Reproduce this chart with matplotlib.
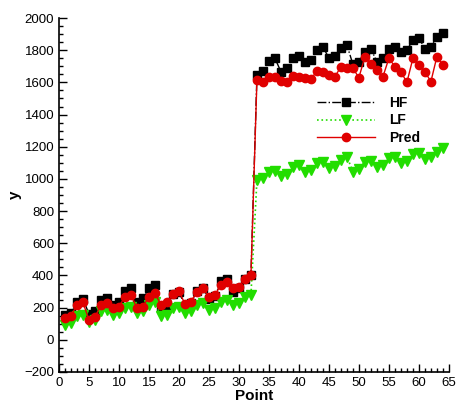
# ---------- Importing Libraries ---------- #
import numpy as np
from matplotlib import pyplot as plt
from matplotlib.ticker import MultipleLocator

# ---------- Data ---------- #
points = np.arange(1, 65)

hf = [155, 168, 238, 254, 161, 182, 248, 259, 217, 232, 306, 320, 238, 259, 320, 340,
      197, 207, 285, 300, 210, 228, 305, 325, 255, 270, 366, 380, 300, 321, 379, 405,
      1646, 1671, 1733, 1750, 1666, 1687, 1750, 1766, 1725, 1739, 1801, 1822, 1750, 1766, 1816, 1832,
      1712, 1729, 1791, 1807, 1729, 1750, 1807, 1822, 1791, 1801, 1863, 1878, 1807, 1822, 1884, 1905]

lf = [93, 103, 145, 155, 113, 124, 176, 186, 155, 166, 197, 207, 166, 176, 217, 232,
      145, 155, 197, 207, 166, 176, 217, 228, 186, 197, 238, 248, 217, 228, 269, 279,
      994, 1004, 1046, 1052, 1019, 1031, 1077, 1087, 1046, 1056, 1097, 1108, 1066, 1081, 1118, 1139,
      1045, 1060, 1108, 1114, 1077, 1087, 1128, 1139, 1101, 1114, 1155, 1163, 1122, 1139, 1170, 1190]

pred = [135, 149, 217, 232, 124, 141, 217, 228, 197, 207, 269, 280, 197, 207, 269, 290,
        217, 233, 284, 304, 222, 238, 300, 321, 269, 279, 342, 358, 321, 331, 379, 400,
        1615, 1605, 1635, 1635, 1609, 1600, 1641, 1635, 1625, 1620, 1671, 1666, 1646, 1635, 1698, 1690,
        1687, 1630, 1760, 1712, 1677, 1635, 1750, 1698, 1666, 1600, 1750, 1705, 1666, 1605, 1760, 1708]

# ---------- Plotting ---------- #
plt.rcParams['font.family'] = ['Liberation Sans', 'DejaVu Sans']

fig = plt.figure(figsize=(4.59, 4.05), dpi=100)
ax = fig.add_axes([0.1285, 0.0815, 0.8495, 0.874])

ax.plot(points, hf, color="black", linestyle="-.", linewidth=1.0,
        marker="s", markersize=6, label="HF")
ax.plot(points, lf, color="#22dd00", linestyle=":", linewidth=1.2,
        marker="v", markersize=7, label="LF")
ax.plot(points, pred, color="#e00000", linestyle="-", linewidth=1.0,
        marker="o", markersize=6, label="Pred")

ax.set_xlim(0, 65)
ax.set_ylim(-200, 2000)
ax.xaxis.set_major_locator(MultipleLocator(5))
ax.xaxis.set_minor_locator(MultipleLocator(1))
ax.yaxis.set_major_locator(MultipleLocator(200))
ax.yaxis.set_minor_locator(MultipleLocator(50))
ax.tick_params(which="both", direction="in", labelsize=9.5, width=1.0)
ax.tick_params(which="major", length=6)
ax.tick_params(which="minor", length=3)
ax.spines["top"].set_visible(False)
ax.spines["right"].set_visible(False)
ax.spines["left"].set_linewidth(1.2)
ax.spines["bottom"].set_linewidth(1.2)

ax.set_xlabel("Point", fontsize=11, fontweight="bold", labelpad=0)
ax.set_ylabel("y", fontsize=11, fontweight="bold", labelpad=2)

leg = ax.legend(loc="upper left", bbox_to_anchor=(0.63, 0.815), frameon=False,
                prop={"weight": "bold", "size": 10}, handlelength=4.2,
                labelspacing=0.25, handletextpad=1.0)

plt.savefig("out.png", dpi=100)
